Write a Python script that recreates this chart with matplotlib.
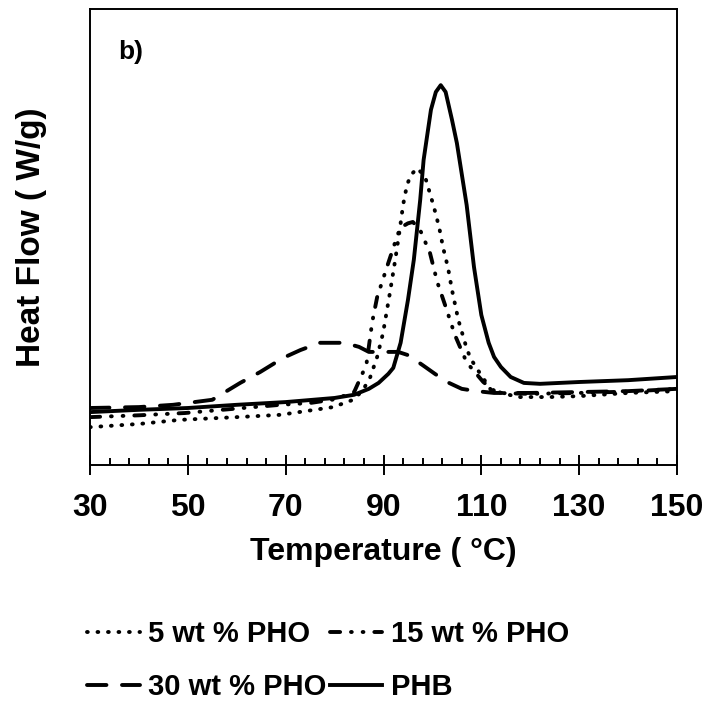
import matplotlib
matplotlib.use("Agg")
import matplotlib.pyplot as plt
import numpy as np
from matplotlib.ticker import FixedLocator

plt.rcParams["font.family"] = ["Liberation Sans", "DejaVu Sans"]
plt.rcParams["font.weight"] = "bold"

# DSC cooling curves, heat flow in arbitrary units
PHB_T = [30, 40, 50, 60, 70, 80, 84, 87, 89, 91, 92, 93.5, 95, 96.2, 97.5, 98.2,
         99.7, 100.7, 101.7, 102.7, 104, 105, 107, 108.5, 110, 111.5, 112.6, 114,
         116, 118.7, 122, 130, 140, 150]
PHB_Q = [11.6, 12.1, 12.5, 13.2, 13.8, 14.7, 15.4, 16.7, 18.0, 20.0, 21.3, 26.8,
         36.2, 45.0, 58.1, 66.9, 77.9, 81.8, 83.3, 81.8, 75.7, 70.6, 57.0, 43.4,
         32.9, 26.8, 23.7, 21.5, 19.3, 18.0, 17.8, 18.2, 18.6, 19.3]

P5_T = [30, 40, 48.4, 60, 68.9, 79.7, 83.8, 85.8, 87.3, 88.7, 89.9, 91.3, 92.4,
        93.4, 94.0, 94.8, 95.6, 96.9, 98.5, 99.1, 100.3, 101.4, 102.2, 103.2,
        104.0, 105.3, 107.1, 108.0, 109.3, 112, 117.5, 124, 130, 140, 150]
P5_Q = [8.3, 9.0, 9.9, 10.5, 11.0, 12.7, 14.3, 16.4, 19.3, 23.7, 28.9, 37.7, 45.0,
        52.2, 57.0, 61.4, 63.6, 65.1, 63.2, 61.0, 56.6, 52.0, 47.6, 43.2, 38.4,
        31.8, 25.2, 23.0, 20.8, 16.4, 14.9, 14.9, 15.1, 15.8, 16.2]

P15_T = [30, 40, 49.4, 61.3, 68.9, 75, 80, 84, 86.5, 87.7, 88.7, 90.7, 92.4, 93.4,
         95.0, 96.0, 97.5, 99.5, 101, 102.8, 104.6, 107, 110.4, 113.2, 120, 130,
         140, 150]
P15_Q = [10.5, 10.9, 11.4, 12.5, 13.2, 13.6, 14.4, 16.0, 22.0, 31.4, 36.8, 43.4,
         48.9, 52.0, 53.0, 53.3, 51.5, 46.5, 40.1, 34.4, 28.5, 22.5, 18.2, 15.8,
         15.6, 15.8, 16.1, 16.7]

P30_T = [30, 40, 47, 55, 60.7, 64.8, 69.5, 73, 77, 82, 85, 87, 90, 93, 95, 98,
         100.5, 103, 106, 109, 112.6, 120, 130, 140, 150]
P30_Q = [12.5, 12.7, 13.2, 14.3, 18.0, 20.4, 23.5, 25.2, 26.8, 26.8, 25.9, 24.8,
         24.8, 24.8, 24.1, 21.9, 20.0, 18.2, 16.7, 16.2, 15.8, 15.8, 16.0, 16.2, 16.7]

LABELS = ["5 wt % PHO", "15 wt % PHO", "30 wt % PHO", "PHB"]
XTICKS = [30, 50, 70, 90, 110, 130, 150]

fig = plt.figure(figsize=(7.12, 7.06), dpi=100)
ax = fig.add_axes([90 / 712, (706 - 465) / 706, (677 - 90) / 712, (465 - 9) / 706])

lw = 2.8
(l5,) = ax.plot(P5_T, P5_Q, color="black", lw=lw, dashes=(0.2, 2.5),
                dash_capstyle="round", label=LABELS[0])
(l15,) = ax.plot(P15_T, P15_Q, color="black", lw=lw,
                 dashes=(2.6, 2.8, 0.2, 2.8, 0.2, 2.8), dash_capstyle="round",
                 label=LABELS[1])
(l30,) = ax.plot(P30_T, P30_Q, color="black", lw=lw, dashes=(5, 4),
                 dash_capstyle="round", label=LABELS[2])
(lphb,) = ax.plot(PHB_T, PHB_Q, color="black", lw=lw, label=LABELS[3])

ax.set_xlim(30, 150)
ax.set_ylim(0, 100)
ax.xaxis.set_major_locator(FixedLocator(XTICKS))
ax.xaxis.set_minor_locator(FixedLocator(np.arange(30, 151, 4)))
ax.tick_params(axis="x", which="major", direction="inout", length=14, width=1.4,
               labelsize=23, pad=13)
ax.tick_params(axis="x", which="minor", direction="in", length=5, width=1.4)
ax.set_yticks([])
for s in ax.spines.values():
    s.set_linewidth(1.4)

ax.set_xlabel("Temperature ( °C)", fontsize=23, fontweight="bold", labelpad=10)
ax.set_ylabel("Heat Flow ( W/g)", fontsize=24, fontweight="bold", labelpad=31)
ax.text(0.048, 0.906, "b)", transform=ax.transAxes, fontsize=19,
        fontweight="bold", va="center", ha="left")

fig.legend(handles=[l5, l30, l15, lphb], ncol=2, frameon=False,
           loc="upper left", bbox_to_anchor=(87 / 712, 1 - 620 / 706),
           prop={"size": 21, "weight": "bold"}, handlelength=1.8,
           handletextpad=0.3, columnspacing=0.1, labelspacing=0.85,
           borderaxespad=0, borderpad=0)

fig.savefig("out.png", dpi=100)
